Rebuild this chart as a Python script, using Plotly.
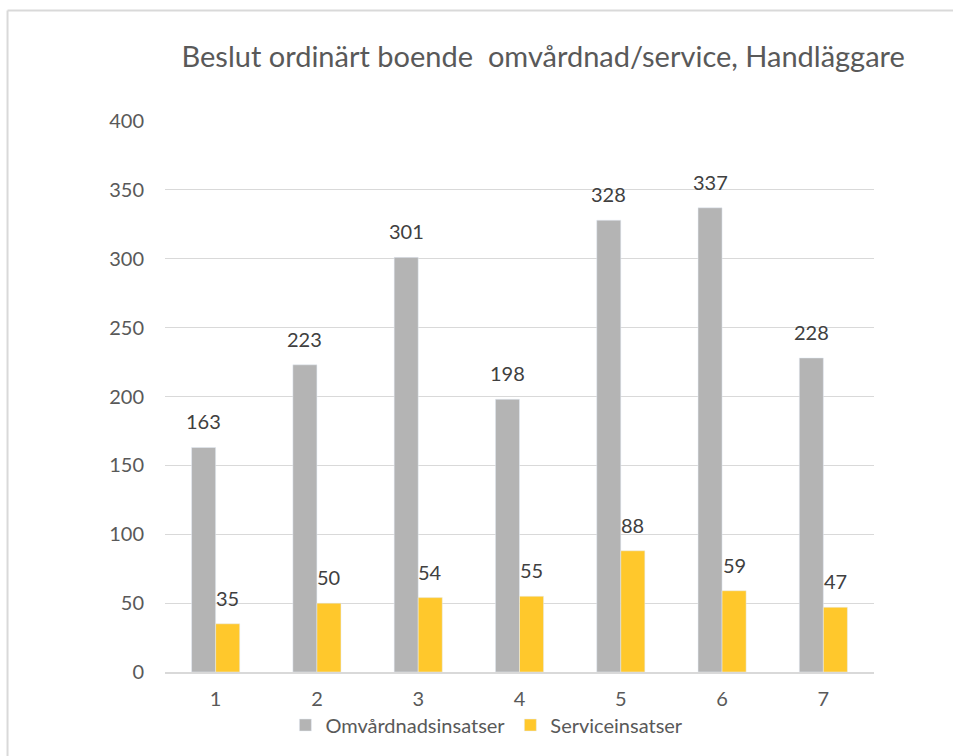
import plotly.graph_objects as go

categories = ["1", "2", "3", "4", "5", "6", "7"]
omvardnad = [163, 223, 301, 198, 328, 337, 228]
service = [35, 50, 54, 55, 88, 59, 47]

title_text = "Beslut ordinärt boende  omvårdnad/service, Handläggare"
grey = "#b4b4b4"
yellow = "#ffc82c"
text_col = "#595959"
font_family = "Lato, Carlito, Calibri, sans-serif"

fig = go.Figure()
fig.add_trace(go.Bar(x=categories, y=omvardnad, name="Omvårdnadsinsatser",
                     marker_color=grey))
fig.add_trace(go.Bar(x=categories, y=service, name="Serviceinsatser",
                     marker_color=yellow))

# data labels above each bar (x given as category index)
for i, v in enumerate(omvardnad):
    fig.add_annotation(x=i, y=v, text=str(v), showarrow=False, xshift=-12,
                       yanchor="bottom", yshift=12,
                       font=dict(size=20, color="#404040", family=font_family))
for i, v in enumerate(service):
    fig.add_annotation(x=i, y=v, text=str(v), showarrow=False, xshift=12,
                       yanchor="bottom", yshift=12,
                       font=dict(size=20, color="#404040", family=font_family))

# outer chart border (top and left visible)
fig.add_shape(type="line", xref="paper", yref="paper", x0=-0.2221, x1=1.2,
              y0=1.2005, y1=1.2005, line=dict(color="#d9d9d9", width=2))
fig.add_shape(type="line", xref="paper", yref="paper", x0=-0.2221, x1=-0.2221,
              y0=-0.2, y1=1.2005, line=dict(color="#d9d9d9", width=2))

fig.update_layout(
    width=953, height=756,
    margin=dict(l=165, r=79, t=121, b=84),
    paper_bgcolor="white", plot_bgcolor="white",
    barmode="group", bargap=0.525, bargroupgap=0,
    font=dict(family=font_family, color=text_col, size=20),
    title=dict(text=title_text, x=0.57, xref="container", xanchor="center",
               y=1 - 57 / 756, yref="container", yanchor="middle",
               font=dict(size=29, color=text_col, family=font_family)),
    legend=dict(orientation="h", x=0.454, xanchor="center", y=-0.0962,
                yanchor="middle", font=dict(size=20, color=text_col),
                bgcolor="rgba(0,0,0,0)", itemwidth=30, tracegroupgap=0),
    showlegend=True,
)
fig.update_yaxes(range=[0, 400], dtick=50, showgrid=True, gridcolor="#d9d9d9",
                 gridwidth=1, zeroline=False, showline=False,
                 ticklabelstandoff=20, tickfont=dict(size=20, color=text_col))
fig.update_xaxes(type="category", showline=True, linecolor="#d9d9d9",
                 linewidth=2, ticks="", ticklabelstandoff=8,
                 tickfont=dict(size=20, color=text_col))

fig.write_html("out.html", config={"displayModeBar": False},
               post_script="document.body.style.margin='0';")
